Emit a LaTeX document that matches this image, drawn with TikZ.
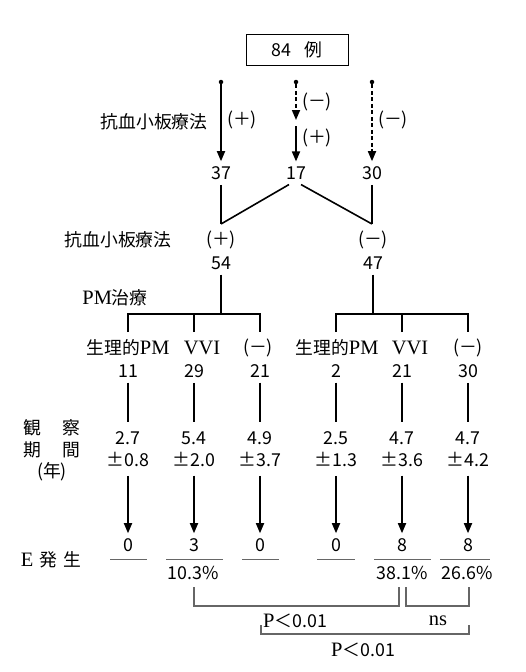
\documentclass[tikz,border=0pt]{standalone}
\usepackage{fontspec}
\setmainfont{Noto Sans CJK JP}
\newfontfamily\ser[Scale=1.15]{Liberation Serif}
\usetikzlibrary{arrows.meta,calc}
\begin{document}
\begin{tikzpicture}[x=1pt,y=-1pt,
  every node/.style={font=\fontsize{17.8}{22}\selectfont, inner sep=0pt},
  num/.style={inner sep=5pt},
  val/.style={align=center, inner xsep=0pt, inner ysep=9pt},
  arr/.style={line width=1.7pt,-{Triangle[width=8pt,length=10pt]}},
  darr/.style={arr, dash pattern=on 4pt off 2.5pt},
  ln/.style={line width=1.6pt},
  ul/.style={line width=1pt, draw=black!60},
  br/.style={line width=1.1pt, draw=black!60},
  dotn/.style={circle,fill,minimum size=4.5pt,inner sep=0pt},
]
\useasboundingbox (0,0) rectangle (525,672);

% top box
\node[draw, line width=1pt, minimum width=102pt, minimum height=31pt] (box) at (297,49.5) {84\hspace{14pt}例};

% first split
\node[dotn] (s1) at (221,82) {};
\node[dotn] (s2) at (296,82) {};
\node[dotn] (s3) at (372,82) {};
\node[num] (n37) at (221,173) {37};
\node[num] (n17) at (296,173) {17};
\node[num] (n30) at (372,173) {30};
\coordinate (m2) at (296,120);
\coordinate (m2b) at (296,126);
\draw[arr] (s1) -- (n37);
\draw[darr] (s2) -- (m2);
\draw[arr] (m2b) -- (n17);
\draw[darr] (s3) -- (n30);

\node (lab1) at (154,122) {抗血小板療法};
\node (pa) at (242,120) {(＋)};
\node (ma) at (317,102) {(－)};
\node (pb) at (317,138) {(＋)};
\node (mb) at (393,120) {(－)};

% merge
\coordinate (j1) at (221,224);
\coordinate (j2) at (372,224);
\draw[ln] (n37) -- (j1);
\draw[ln] ($(n17.south)+(-7,0)$) -- (j1);
\draw[ln] ($(n17.south)+(5,0)$) -- (j2);
\draw[ln] (n30) -- (j2);

% second level
\node (lab2) at (118,240) {抗血小板療法};
\node (pc) at (221,240) {(＋)};
\node (mc) at (373,240) {(－)};
\node[num] (n54) at (221,263) {54};
\node[num] (n47) at (373,263) {47};
\node (pm) at (115,298) {{\ser PM}治療};

\coordinate (b1) at (221,314);
\coordinate (b2) at (373,314);
\draw[ln] (n54) -- (b1);
\draw[ln] (n47) -- (b2);
\coordinate (t1) at (128,332);
\coordinate (t2) at (194,332);
\coordinate (t3) at (260,332);
\coordinate (t4) at (336,332);
\coordinate (t5) at (402,332);
\coordinate (t6) at (468,332);
\draw[ln] (t1) |- (b1) -| (t3);
\draw[ln] (t2) -- (t2 |- b1);
\draw[ln] (t4) |- (b2) -| (t6);
\draw[ln] (t5) -- (t5 |- b2);

% group labels
\node (L1) at (128,348) {生理的{\ser PM}};
\node (L2) at (202,348) {\ser VVI};
\node (L3) at (258,348) {(－)};
\node (L4) at (337,348) {生理的{\ser PM}};
\node (L5) at (410,348) {\ser VVI};
\node (L6) at (468,348) {(－)};

% counts
\node[num] (N1) at (128,371) {11};
\node[num] (N2) at (194,371) {29};
\node[num] (N3) at (260,371) {21};
\node[num] (N4) at (336,371) {2};
\node[num] (N5) at (402,371) {21};
\node[num] (N6) at (468,371) {30};

% observation periods
\node[val] (V1) at (128,449) {2.7\\±0.8};
\node[val] (V2) at (194,449) {5.4\\±2.0};
\node[val] (V3) at (260,449) {4.9\\±3.7};
\node[val] (V4) at (336,449) {2.5\\±1.3};
\node[val] (V5) at (402,449) {4.7\\±3.6};
\node[val] (V6) at (468,449) {4.7\\±4.2};

\foreach \i in {1,...,6} {\draw[ln] (N\i) -- (V\i);}

% events
\node[num] (R1) at (128,545) {0};
\node[num] (R2) at (194,545) {3};
\node[num] (R3) at (260,545) {0};
\node[num] (R4) at (336,545) {0};
\node[num] (R5) at (402,545) {8};
\node[num] (R6) at (468,545) {8};
\foreach \i in {1,...,6} {\draw[arr] (V\i) -- (R\i);}

\draw[ul] (110,559) -- (147,559);
\draw[ul] (166,559) -- (223,559);
\draw[ul] (242,559) -- (279,559);
\draw[ul] (317,559) -- (355,559);
\draw[ul] (374,559) -- (431,559);
\draw[ul] (440,559) -- (490,559);

\node (q2) at (193,573) {10.3\%};
\node (q5) at (402,573) {38.1\%};
\node (q6) at (467,573) {26.6\%};

% brackets
\coordinate (k1) at (194,587);
\coordinate (k2) at (399,587);
\coordinate (k3) at (406,587);
\coordinate (k4) at (469,587);
\coordinate (k5) at (261,625);
\coordinate (k6) at (469,625);
\draw[br] (k1) -- ++(0,19) -| (k2);
\draw[br] (k3) -- ++(0,19) -| (k4);
\draw[br] (k5) -- ++(0,9) -| (k6);
\node (pv1) at (295,621) {{\ser P}＜0.01};
\node (ns) at (438,621) {\ser ns};
\node (pv2) at (363,650) {{\ser P}＜0.01};

% left labels
\node (o1) at (52,428) {観\hspace{21pt}察};
\node (o2) at (52,450) {期\hspace{21pt}間};
\node (o3) at (52,472) {(年)};
\node (ev) at (51,560) {{\ser E}\hspace{6pt}発\hspace{6pt}生};
\end{tikzpicture}
\end{document}
